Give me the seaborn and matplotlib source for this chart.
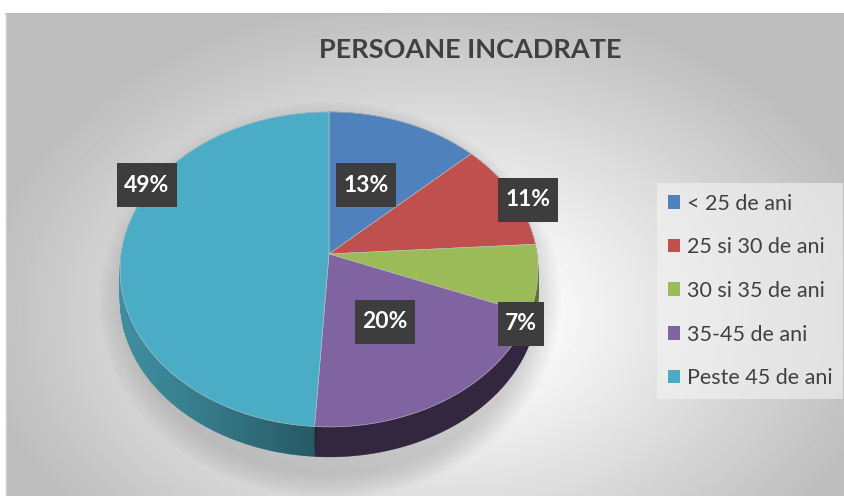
import numpy as np
import matplotlib.pyplot as plt
import seaborn as sns
from matplotlib.patches import PathPatch, Ellipse
from matplotlib.path import Path

# data
categories = ['< 25 de ani', '25 si 30 de ani', '30 si 35 de ani', '35-45 de ani', 'Peste 45 de ani']
shares = [13, 11, 7, 20, 49]
pct_labels = ['13%', '11%', '7%', '20%', '49%']
title = 'PERSOANE INCADRATE'

colors = ['#4f81bd', '#c0504d', '#9bbb59', '#8064a2', '#4bacc6']
side_colors = ['#2c4b73', '#76302e', '#5d7234', '#33263f', '#3f8fa0']

# layout (pixels)
label_xy = [(366, 185), (528, 200), (521, 324), (385, 322), (147, 185)]
W, H = 845, 496
vx, vy = 329, 254          # pie centre on screen
c_x, k_y, persp = 208, 156, 0.098   # 3-D tilt of the disc
depth = 30

sns.set_theme(style='white')
plt.rcParams['font.family'] = ['Lato', 'DejaVu Sans']
plt.rcParams['hatch.color'] = '#575757'
plt.rcParams['hatch.linewidth'] = 0.6
palette = sns.color_palette(colors)

fig = plt.figure(figsize=(W / 100, H / 100), dpi=100)
fig.patch.set_facecolor('white')

# background frame with radial gradient
bg = fig.add_axes([6 / W, 0, 1 - 6 / W, 1 - 14 / H])
yy, xx = np.mgrid[0:482, 0:839]
d = np.sqrt(((xx - 430) / 520) ** 2 + ((yy - 300) / 360) ** 2)
shade = np.clip(1 - 0.30 * np.clip(d - 0.15, 0, None) / 0.85, 0.74, 1)
bg.imshow(shade, cmap='gray', vmin=0, vmax=1, aspect='auto', extent=(0, 1, 0, 1))
bg.set_xlim(0, 1)
bg.set_ylim(0, 1)
bg.set_axis_off()
fig.add_artist(plt.Line2D([6 / W, 1], [1 - 14 / H, 1 - 14 / H], color='#bdbdbd', lw=1.5,
                          transform=fig.transFigure))
fig.add_artist(plt.Line2D([6 / W, 6 / W], [0, 1 - 14 / H], color='#d0d0d0', lw=1,
                          transform=fig.transFigure))

ax = fig.add_axes([0, 0, 1, 1])
ax.patch.set_alpha(0)

wedges, _ = ax.pie(shares, colors=palette, startangle=90, counterclock=False,
                   wedgeprops=dict(lw=0))


def flatten(path):
    pts = []
    for bez, code in path.iter_bezier():
        t = np.linspace(0, 1, 16)
        pts.append(bez(t))
    return np.vstack(pts)


def project(poly, dy=0.0):
    x, y = poly[:, 0], poly[:, 1]
    den = 1 + persp * y
    return np.column_stack([vx + c_x * x / den, vy - k_y * y / den + dy])


def label_box(x0, y0, width, height, mutation_size):
    px, py = 0.32 * mutation_size, 0.5 * mutation_size
    x0, y0 = x0 - px, y0 - py
    x1, y1 = x0 + width + 2 * px, y0 + height + 2 * py
    return Path([(x0, y0), (x1, y0), (x1, y1), (x0, y1), (x0, y0)], closed=True)


polys = [flatten(w.get_path()) for w in wedges]

# soft shadow under the pie
for i in range(14):
    s = i * 4
    ax.add_patch(Ellipse((330, 300), 410 + s, 350 + s * 0.9, color='#7a7a7a',
                         alpha=0.022, lw=0, zorder=0.5))

# side of the pie
bottom_teal = None
for off in np.linspace(depth, 0, 45):
    for poly, col in zip(polys, side_colors):
        p = PathPatch(Path(project(poly, off)), fc=col, ec=col, lw=0.3, zorder=1)
        ax.add_patch(p)
        if off == depth and col == side_colors[4]:
            bottom_teal = p

# darkening of the teal side towards the front
ramp = np.zeros((2, 200, 4))
ramp[..., 3] = np.linspace(0, 0.55, 200) ** 1.2
ramp[..., :3] = np.array([0.05, 0.12, 0.14])
img = ax.imshow(ramp, extent=(115, 318, 470, 240), aspect='auto', zorder=1.5)
img.set_clip_path(bottom_teal)

# top face
top_patches = []
for poly, col in zip(polys, palette):
    p = PathPatch(Path(project(poly)), fc=col, ec='#c8c8c8', lw=0.4, zorder=2)
    ax.add_patch(p)
    top_patches.append(p)
for w in wedges:
    w.remove()

ax.set_xlim(0, W)
ax.set_ylim(H, 0)
ax.set_aspect('auto')
ax.set_axis_off()

for (lx, ly), txt in zip(label_xy, pct_labels):
    ax.text(lx, ly, txt, ha='center', va='center', color='white', fontsize=16.5,
            fontweight='bold', zorder=10,
            bbox=dict(boxstyle=label_box, fc='#3d3d3d', ec='#3d3d3d', lw=0, hatch='..'))

fig.text(470 / W, 1 - 50 / H, title, ha='center', va='center', fontsize=19.5,
         fontweight='bold', color='#404040')

leg = fig.legend(top_patches, categories, loc='upper left', bbox_to_anchor=(646 / W, 1 - 172 / H),
                 frameon=True, fontsize=15.5, labelcolor='#404040', handlelength=0.6,
                 handleheight=0.6, handletextpad=0.3, labelspacing=1.1,
                 borderpad=0.5, fancybox=False)
for h in leg.legend_handles:
    h.set_edgecolor('none')
leg.get_frame().set_facecolor('#f4f4f4')
leg.get_frame().set_alpha(0.6)
leg.get_frame().set_edgecolor('none')

fig.savefig('out.png', dpi=100)
